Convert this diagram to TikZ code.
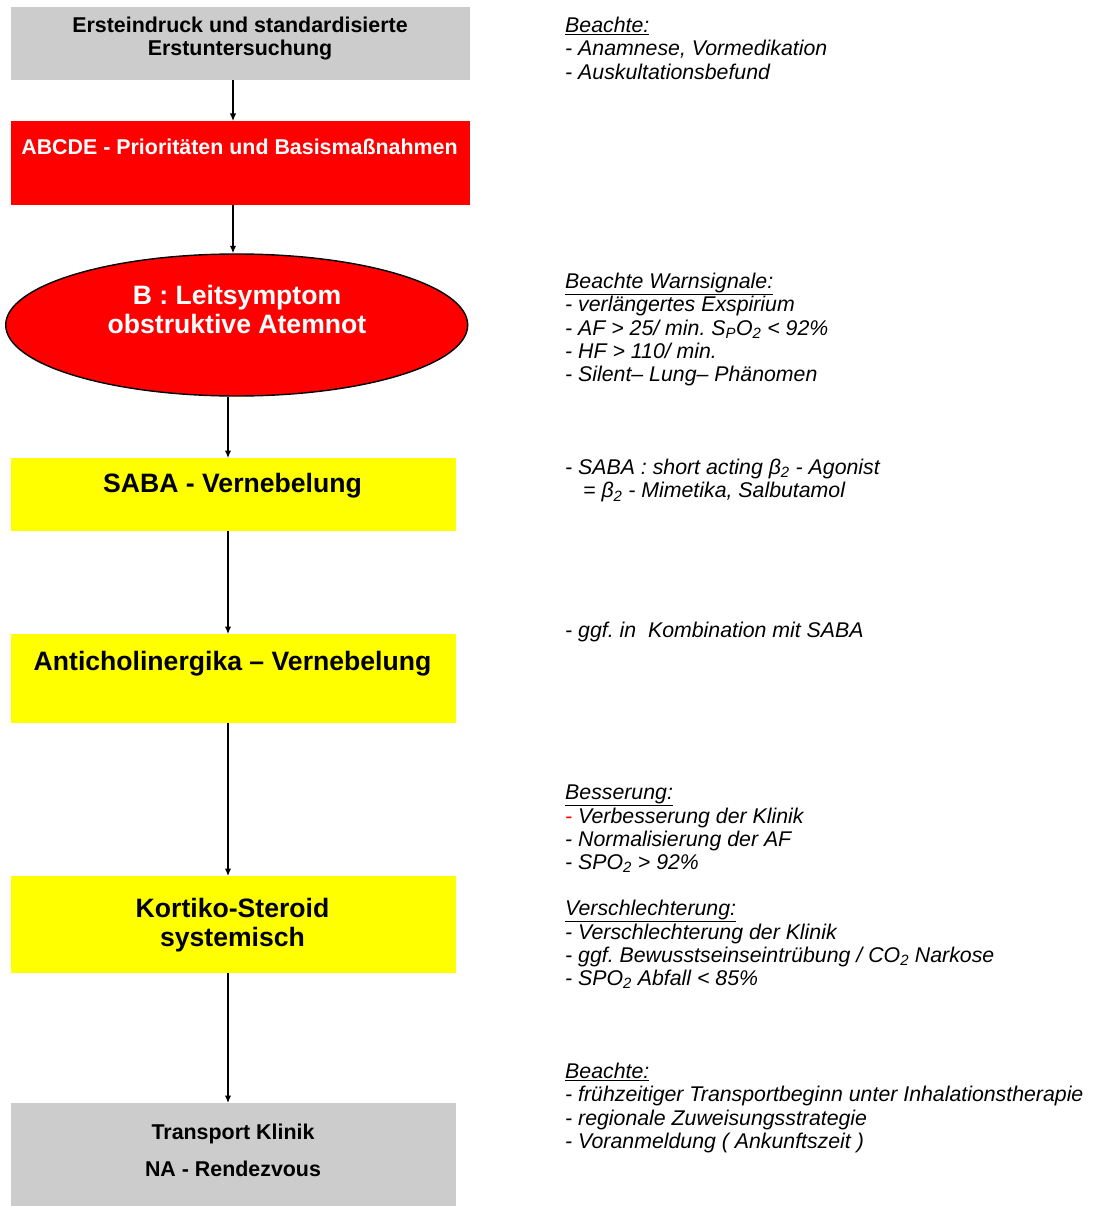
\documentclass[tikz,border=0pt]{standalone}
\usepackage{fontspec}
\setmainfont{Liberation Sans}
\usetikzlibrary{arrows.meta,shapes.geometric}
\definecolor{boxgray}{HTML}{CCCCCC}
\definecolor{alarmred}{HTML}{FF0000}
\definecolor{steryellow}{HTML}{FFFF00}
\frenchspacing
\tikzset{
  panel/.style={rectangle, inner sep=0, outer sep=0},
  graypanel/.style={panel, fill=boxgray},
  redpanel/.style={panel, fill=alarmred},
  yellowpanel/.style={panel, fill=steryellow},
  smallbold/.style={anchor=north, inner sep=0, align=center,
    font=\fontsize{21.4}{23}\selectfont\bfseries},
  largebold/.style={anchor=north, inner sep=0, align=center,
    font=\fontsize{26.6}{28.5}\selectfont\bfseries},
  note/.style={anchor=north west, inner sep=0, align=left,
    font=\fontsize{21.3}{23.2}\selectfont\itshape},
  flow/.style={line width=1.3pt, -{Latex[length=7.5pt,width=6.5pt]}},
}
\begin{document}
\begin{tikzpicture}[x=1pt, y=-1pt]
  \fill[white] (0,0) rectangle (1093,1206);
  \useasboundingbox (0,0) rectangle (1093,1206);

  % columns of the connecting arrows
  \coordinate (colA) at (233,0);
  \coordinate (colB) at (228,0);

  % flow chart on the left
  \node[graypanel, minimum width=459pt, minimum height=73pt] (first) at (240.5,43.5) {};
  \node[smallbold] (firstT) at (240,16.3) {Ersteindruck und standardisierte\\Erstuntersuchung};

  \node[redpanel, minimum width=459pt, minimum height=84pt] (abcde) at (240.5,163) {};
  \node[smallbold, text=white] (abcdeT) at (239.5,138.3) {ABCDE - Priorit\"aten und Basisma\ss nahmen};

  \node[ellipse, draw=black, line width=1.4pt, fill=alarmred, inner sep=0,
        minimum width=462pt, minimum height=142pt] (lead) at (236.7,325) {};
  \node[largebold, text=white] (leadT) at (237,285.2) {B : Leitsymptom\\obstruktive Atemnot};

  \node[yellowpanel, minimum width=445pt, minimum height=73pt] (saba) at (233.5,494.5) {};
  \node[largebold] (sabaT) at (232.5,473.2) {SABA - Vernebelung};

  \node[yellowpanel, minimum width=445pt, minimum height=89pt] (anti) at (233.5,678.5) {};
  \node[largebold] (antiT) at (232.5,651.2) {Anticholinergika -- Vernebelung};

  \node[yellowpanel, minimum width=445pt, minimum height=97pt] (cort) at (233.5,924.5) {};
  \node[largebold] (cortT) at (232.5,898.2) {Kortiko-Steroid\\systemisch};

  \node[graypanel, minimum width=445pt, minimum height=103pt] (transport) at (233.5,1154.5) {};
  \node[smallbold] (transportT) at (233,1123.3) {Transport Klinik\\[14pt]NA - Rendezvous};

  % connectors
  \draw[flow] (first.south -| colA) -- (abcde.north -| colA);
  \draw[flow] (abcde.south -| colA) -- (lead.north -| colA);
  \draw[flow] (lead.south -| colB) -- (saba.north -| colB);
  \draw[flow] (saba.south -| colB) -- (anti.north -| colB);
  \draw[flow] (anti.south -| colB) -- (cort.north -| colB);
  \draw[flow] (cort.south -| colB) -- (transport.north -| colB);

  % notes on the right
  \node[note] (noteA) at (565,17) {\underline{Beachte:}\\
    - Anamnese, Vormedikation\\
    - Auskultationsbefund};

  \node[note] (noteB) at (565,273) {\underline{Beachte Warnsignale:}\\
    - verl\"angertes Exspirium\\
    - AF > 25/ min. S\textsubscript{P}O\textsubscript{2} < 92\%\\
    - HF > 110/ min.\\
    - Silent-- Lung-- Ph\"anomen};

  \node[note] (noteC) at (565,459) {- SABA : short acting β\textsubscript{2} - Agonist\\
    \hspace*{18pt}= β\textsubscript{2} - Mimetika, Salbutamol};

  \node[note] (noteD) at (565,622) {- ggf. in\ \ Kombination mit SABA};

  \node[note] (noteE) at (565,785) {\underline{Besserung:}\\
    \textcolor{alarmred}{-} Verbesserung der Klinik\\
    - Normalisierung der AF\\
    - SPO\textsubscript{2} > 92\%\\[23.2pt]
    \underline{Verschlechterung:}\\
    - Verschlechterung der Klinik\\
    - ggf. Bewusstseinseintr\"ubung / CO\textsubscript{2} Narkose\\
    - SPO\textsubscript{2} Abfall < 85\%};

  \node[note] (noteF) at (565,1063) {\underline{Beachte:}\\
    - fr\"uhzeitiger Transportbeginn unter Inhalationstherapie\\
    - regionale Zuweisungsstrategie\\
    - Voranmeldung ( Ankunftszeit )};
\end{tikzpicture}
\end{document}
